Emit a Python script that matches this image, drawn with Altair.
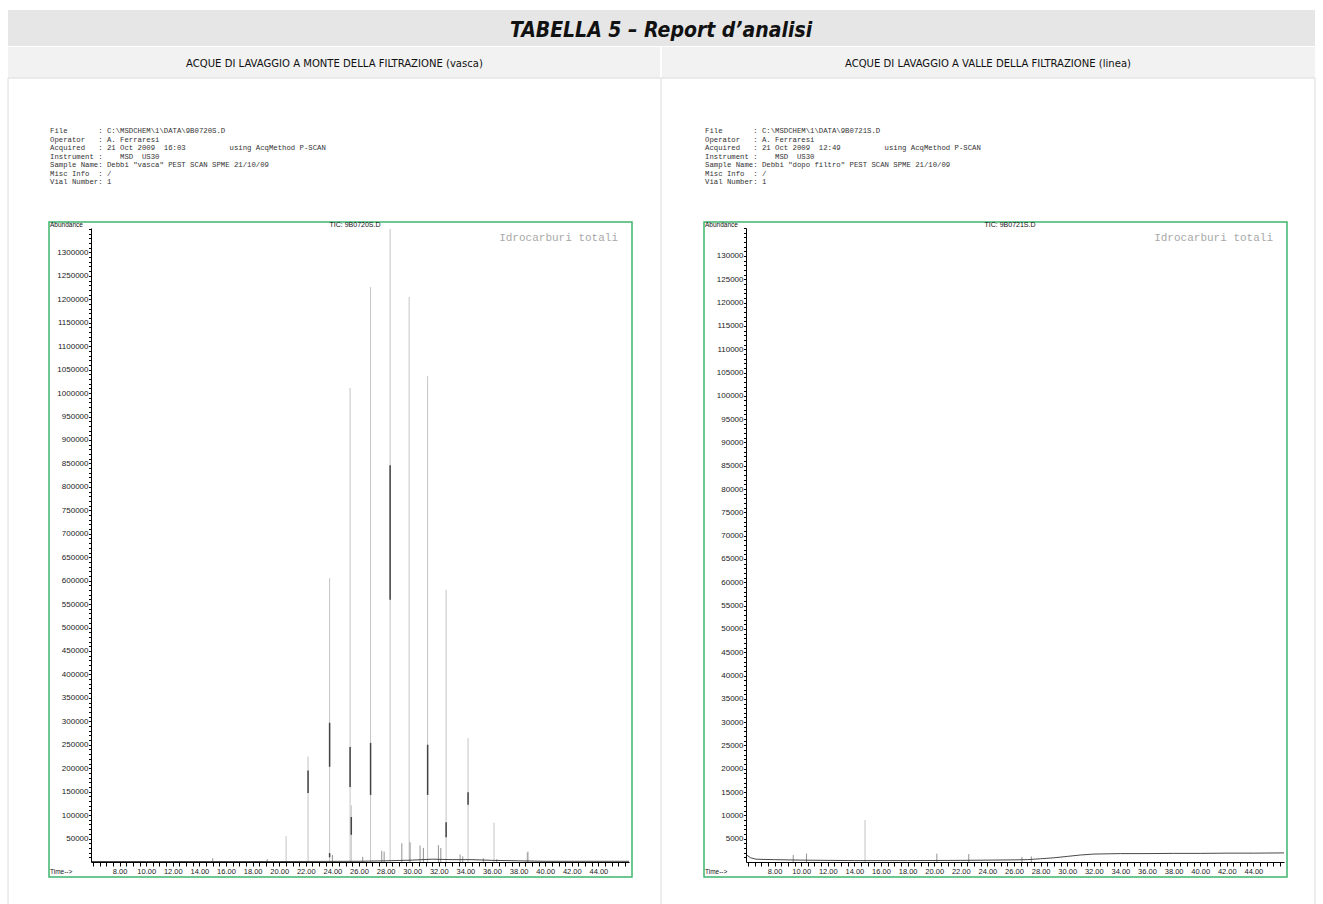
import altair as alt
import pandas as pd

# ---------------- data ----------------
# Left chromatogram (vasca): main peaks (retention time min, abundance)
left_peak_t = [20.52, 22.17, 23.79, 25.33, 25.42, 26.87, 28.34, 29.77, 31.16, 32.55, 34.20, 36.15, 38.64]
left_peak_h = [55000, 225000, 605000, 1011000, 121000, 1226000, 1350000, 1205000, 1036000, 580000, 264000, 84000, 20000]
# small peaks near the baseline
left_small_t = [15.0, 19.1, 24.0, 26.28, 27.71, 27.89, 29.22, 29.84, 30.59, 30.84, 31.97, 32.15, 33.6, 33.8, 35.35, 36.36, 38.7]
left_small_h = [8000, 6000, 15000, 11000, 24000, 22000, 40000, 42000, 35000, 30000, 36000, 30000, 16000, 12000, 8000, 6000, 22000]
# darker overprinted segments on peaks
left_dark_t = [22.17, 23.79, 23.79, 25.33, 25.42, 26.87, 28.34, 31.16, 32.55, 34.20]
left_dark_lo = [147000, 203000, 10000, 160000, 58000, 143000, 559000, 143000, 53000, 122000]
left_dark_hi = [195000, 297000, 19000, 245000, 96000, 254000, 846000, 250000, 85000, 149000]
# baseline trace
left_base_t = [5.85, 10.0, 20.0, 26.0, 28.0, 30.0, 31.5, 33.0, 34.5, 36.0, 38.0, 40.0, 43.0, 46.3]
left_base_v = [1000, 1000, 1000, 1500, 2500, 4000, 6000, 5000, 5000, 3500, 2500, 1500, 1500, 1500]

# Right chromatogram (dopo filtro)
right_peak_t = [14.8]
right_peak_h = [9000]
right_small_t = [9.4, 10.4, 20.2, 22.6, 26.6, 27.3]
right_small_h = [1500, 1800, 1800, 1700, 1100, 1200]
right_base_t = [5.9, 6.2, 6.6, 8.0, 10.0, 14.0, 18.0, 22.0, 26.0, 27.0, 28.0, 29.0, 30.0, 31.0, 32.0, 34.0, 36.0, 38.0, 40.0, 42.0, 44.0, 46.3]
right_base_v = [1500, 900, 600, 500, 400, 300, 300, 350, 450, 500, 700, 900, 1200, 1500, 1700, 1800, 1800, 1850, 1850, 1900, 1900, 1950]

# axis labels
x_label_values = [8, 10, 12, 14, 16, 18, 20, 22, 24, 26, 28, 30, 32, 34, 36, 38, 40, 42, 44]
left_y_label_step, left_y_label_max = 50000, 1300000
right_y_label_step, right_y_label_max = 5000, 130000

left_header = [
    "File       : C:\\MSDCHEM\\1\\DATA\\9B0720S.D",
    "Operator   : A. Ferraresi",
    "Acquired   : 21 Oct 2009  16:03          using AcqMethod P-SCAN",
    "Instrument :    MSD  US30",
    "Sample Name: Debbi \"vasca\" PEST SCAN SPME 21/10/09",
    "Misc Info  : /",
    "Vial Number: 1",
]
right_header = [
    "File       : C:\\MSDCHEM\\1\\DATA\\9B0721S.D",
    "Operator   : A. Ferraresi",
    "Acquired   : 21 Oct 2009  12:49          using AcqMethod P-SCAN",
    "Instrument :    MSD  US30",
    "Sample Name: Debbi \"dopo filtro\" PEST SCAN SPME 21/10/09",
    "Misc Info  : /",
    "Vial Number: 1",
]
title_text = "TABELLA 5 \u2013 Report d\u2019analisi"
sub_left = "ACQUE DI LAVAGGIO A MONTE DELLA FILTRAZIONE (vasca)"
sub_right = "ACQUE DI LAVAGGIO A VALLE DELLA FILTRAZIONE (linea)"

# ---------------- layout ----------------
W, H = 538, 634
X_DOMAIN = [5.85, 46.3]
GREEN = "#3fb56c"
anno = pd.DataFrame({"k": [0]})
SANS = "Liberation Sans"
MONO = "Liberation Mono"
HEAD = "DejaVu Sans Condensed, DejaVu Sans, Liberation Sans"
LABEL_LIST = ",".join(str(v) for v in x_label_values)


def nb(lines):
    return [s.replace(" ", "\u00a0") for s in lines]


def chrom_panel(peak_t, peak_h, small_t, small_h, dark_t, dark_lo, dark_hi,
                base_t, base_v, ymax, ytick, ylab, ylabmax, header, tic, extra_layers):
    xscale = alt.Scale(domain=X_DOMAIN, nice=False, zero=False)
    yscale = alt.Scale(domain=[0, ymax], nice=False)
    xaxis = alt.Axis(
        values=[v / 2 for v in range(12, 93)], title=None, grid=False, zindex=2,
        labelExpr=f"indexof([{LABEL_LIST}], datum.value) >= 0 ? format(datum.value, '.2f') : ''",
        labelFont=SANS, labelFontSize=7.5, labelColor="#222", tickSize=4, tickColor="#000",
        domainColor="#000", labelPadding=1, labelFlush=False, labelOverlap=False, labelBound=False,
    )
    yaxis = alt.Axis(
        values=[ytick * k for k in range(1, int(ymax / ytick) + 1)], title=None, grid=False, zindex=2,
        labelExpr=f"(datum.value % {ylab} == 0 && datum.value <= {ylabmax}) ? format(datum.value, 'd') : ''",
        labelFont=SANS, labelFontSize=8, labelColor="#222", tickSize=2.5, tickColor="#000",
        domainColor="#000", labelPadding=0.5, labelFlush=False, labelOverlap=False, labelBound=False,
    )
    X = lambda f: alt.X(f, type="quantitative", scale=xscale, axis=xaxis)
    Y = lambda f: alt.Y(f, type="quantitative", scale=yscale, axis=yaxis)

    base_df = pd.DataFrame({"t": base_t, "v": base_v})
    peak_df = pd.DataFrame({"t": peak_t, "lo": [0] * len(peak_t), "hi": peak_h})
    small_df = pd.DataFrame({"t": small_t, "lo": [0] * len(small_t), "hi": small_h})

    layers = list(extra_layers)
    # header text block
    layers.append(alt.Chart(anno).mark_text(
        text=nb(header), font=MONO, fontSize=7.3, lineHeight=8.5, align="left",
        baseline="top", color="#333").encode(x=alt.value(-41), y=alt.value(-101)))
    # green frame
    layers.append(alt.Chart(anno).mark_rect(fill=None, stroke=GREEN, strokeWidth=1.5).encode(
        x=alt.value(-42), x2=alt.value(541), y=alt.value(-6), y2=alt.value(649)))
    layers.append(alt.Chart(anno).mark_text(text="Abundance", font=SANS, fontSize=6.5, align="left",
                                            baseline="middle", color="#111").encode(x=alt.value(-41), y=alt.value(-3)))
    layers.append(alt.Chart(anno).mark_text(text=tic, font=SANS, fontSize=7, align="center",
                                            baseline="middle", color="#111").encode(x=alt.value(264), y=alt.value(-3)))
    layers.append(alt.Chart(anno).mark_text(text="Idrocarburi totali", font=MONO, fontSize=11, align="right",
                                            baseline="middle", color="#a8a8a8").encode(x=alt.value(527), y=alt.value(10)))
    layers.append(alt.Chart(anno).mark_text(text="Time-->", font=SANS, fontSize=6.5, align="left",
                                            baseline="middle", color="#111").encode(x=alt.value(-41), y=alt.value(644)))
    # data
    layers.append(alt.Chart(peak_df).mark_rule(color="#c4c4c4", strokeWidth=1).encode(x=X("t"), y=Y("lo"), y2="hi"))
    layers.append(alt.Chart(small_df).mark_rule(color="#777", strokeWidth=0.8).encode(x=X("t"), y=Y("lo"), y2="hi"))
    if dark_t:
        dark_df = pd.DataFrame({"t": dark_t, "lo": dark_lo, "hi": dark_hi})
        layers.append(alt.Chart(dark_df).mark_rule(color="#444", strokeWidth=1.5).encode(x=X("t"), y=Y("lo"), y2="hi"))
    layers.append(alt.Chart(base_df).mark_line(color="#333", strokeWidth=0.9).encode(x=X("t"), y=Y("v")))
    return alt.layer(*layers).properties(width=W, height=H)


def val_rect(x, x2, y, y2, fill):
    return alt.Chart(anno).mark_rect(fill=fill, strokeWidth=0).encode(
        x=alt.value(x), x2=alt.value(x2), y=alt.value(y), y2=alt.value(y2))


def val_vrule(x, y, y2, color="#dcdcdc"):
    return alt.Chart(anno).mark_rule(color=color, strokeWidth=1).encode(
        x=alt.value(x), y=alt.value(y), y2=alt.value(y2))


table_layers = [
    val_rect(-91, 1232, -228, 676, "white"),
    val_rect(-83, 1224, -218, -182, "#e6e6e6"),
    val_rect(-83, 569, -181, -150, "#f2f2f2"),
    val_rect(571, 1224, -181, -150, "#f2f2f2"),
    val_vrule(-83, -150, 676),
    val_vrule(570, -150, 676),
    val_vrule(1224, -150, 676),
    alt.Chart(anno).mark_rule(color="#dcdcdc", strokeWidth=1).encode(
        x=alt.value(-83), x2=alt.value(1224), y=alt.value(-150)),
    alt.Chart(anno).mark_text(text=title_text, font=HEAD, fontSize=21, fontWeight="bold", fontStyle="italic",
                              align="center", baseline="middle", color="#111").encode(x=alt.value(570), y=alt.value(-197)),
    alt.Chart(anno).mark_text(text=sub_left, font=HEAD, fontSize=11.2, align="center",
                              baseline="middle", color="#111").encode(x=alt.value(243.5), y=alt.value(-164)),
    alt.Chart(anno).mark_text(text=sub_right, font=HEAD, fontSize=11.2, align="center",
                              baseline="middle", color="#111").encode(x=alt.value(897), y=alt.value(-164)),
]

left = chrom_panel(left_peak_t, left_peak_h, left_small_t, left_small_h, left_dark_t, left_dark_lo, left_dark_hi,
                   left_base_t, left_base_v, 1352000, 10000, left_y_label_step, left_y_label_max,
                   left_header, "TIC: 9B0720S.D", table_layers)
right = chrom_panel(right_peak_t, right_peak_h, right_small_t, right_small_h, [], [], [],
                    right_base_t, right_base_v, 136000, 1000, right_y_label_step, right_y_label_max,
                    right_header, "TIC: 9B0721S.D", [])

chart = alt.hconcat(left, right, spacing=117, bounds="flush").properties(
    padding=0, background="white"
).configure_view(stroke=None)

chart.save("out.html", embed_options={"renderer": "svg", "actions": False})
